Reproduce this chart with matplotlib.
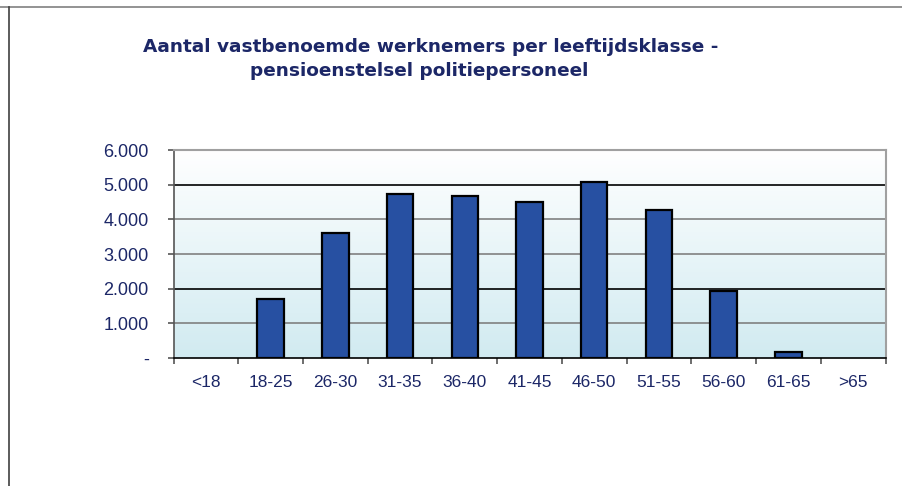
import matplotlib
matplotlib.use("Agg")
import matplotlib.pyplot as plt
import numpy as np
from matplotlib.lines import Line2D

categories = ["<18", "18-25", "26-30", "31-35", "36-40", "41-45", "46-50",
              "51-55", "56-60", "61-65", ">65"]
values = [0, 1700, 3600, 4720, 4680, 4490, 5080, 4270, 1920, 170, 0]
ytick_vals = [0, 1000, 2000, 3000, 4000, 5000, 6000]
ytick_labels = ["-", "1.000", "2.000", "3.000", "4.000", "5.000", "6.000"]
title_lines = ["Aantal vastbenoemde werknemers per leeftijdsklasse -",
               "pensioenstelsel politiepersoneel"]

W, H = 902, 486
fig = plt.figure(figsize=(W / 100, H / 100), dpi=100)
plt.rcParams['font.family'] = ['Liberation Sans', 'DejaVu Sans']
navy = "#1c2767"

left, right, top, bottom = 173.5, 885.5, 150, 358
ax = fig.add_axes([left / W, 1 - bottom / H, (right - left) / W, (bottom - top) / H])

x = np.arange(len(categories))
ax.set_xlim(-0.5, len(categories) - 0.5)
ax.set_ylim(0, 6000)

# gradient background
grad = np.linspace(0, 1, 256).reshape(-1, 1)
c_top = np.array([1.0, 1.0, 1.0])
c_bot = np.array([0.82, 0.92, 0.945])
img = c_top + (c_bot - c_top) * grad[..., None] * np.ones((1, 1, 3))
ax.imshow(img, extent=[0, 1, 0, 1], transform=ax.transAxes, aspect='auto', zorder=0)

# gridlines
grid_colors = {1000: "#808080", 2000: "#000000", 3000: "#808080", 4000: "#808080", 5000: "#000000"}
for v, c in grid_colors.items():
    ax.axhline(v, color=c, lw=1.2, zorder=1)

vals = np.array(values)
mask = vals > 0
ax.bar(x[mask], vals[mask], width=0.41, color="#2750a2", edgecolor="black", linewidth=1.6, zorder=3)

ax.set_yticks(ytick_vals)
ax.set_yticklabels(ytick_labels)
ax.set_xticks(x)
ax.set_xticklabels(categories)
ax.set_xticks(np.arange(-0.5, len(categories), 1), minor=True)
ax.tick_params(axis='x', which='major', length=0, pad=12.5, labelsize=12.5, labelcolor=navy)
ax.tick_params(axis='x', which='minor', length=4, width=1.2, color="#555555", direction='out')
ax.tick_params(axis='y', length=4.3, width=1.2, color="#555555", pad=13.5, labelsize=13, labelcolor=navy)

ax.spines['top'].set_color("#a0a0a0")
ax.spines['top'].set_linewidth(1.5)
ax.spines['right'].set_color("#a0a0a0")
ax.spines['right'].set_linewidth(1.5)
ax.spines['left'].set_color("#555555")
ax.spines['left'].set_linewidth(1.2)
ax.spines['bottom'].set_color("#000000")
ax.spines['bottom'].set_linewidth(1.2)

fig.text(431 / W, 1 - 47 / H, title_lines[0], ha='center', va='center',
         fontsize=13.3, fontweight='bold', color=navy, family=['DejaVu Sans'])
fig.text(419 / W, 1 - 71 / H, title_lines[1], ha='center', va='center',
         fontsize=13.3, fontweight='bold', color=navy, family=['DejaVu Sans'])

# figure border lines
fig.add_artist(Line2D([0, 1], [1 - 7 / H, 1 - 7 / H], transform=fig.transFigure,
                      color="#808080", lw=1.2))
fig.add_artist(Line2D([9 / W, 9 / W], [0, 1 - 7 / H], transform=fig.transFigure,
                      color="#404040", lw=1.2))

fig.savefig("out.png", dpi=100)
